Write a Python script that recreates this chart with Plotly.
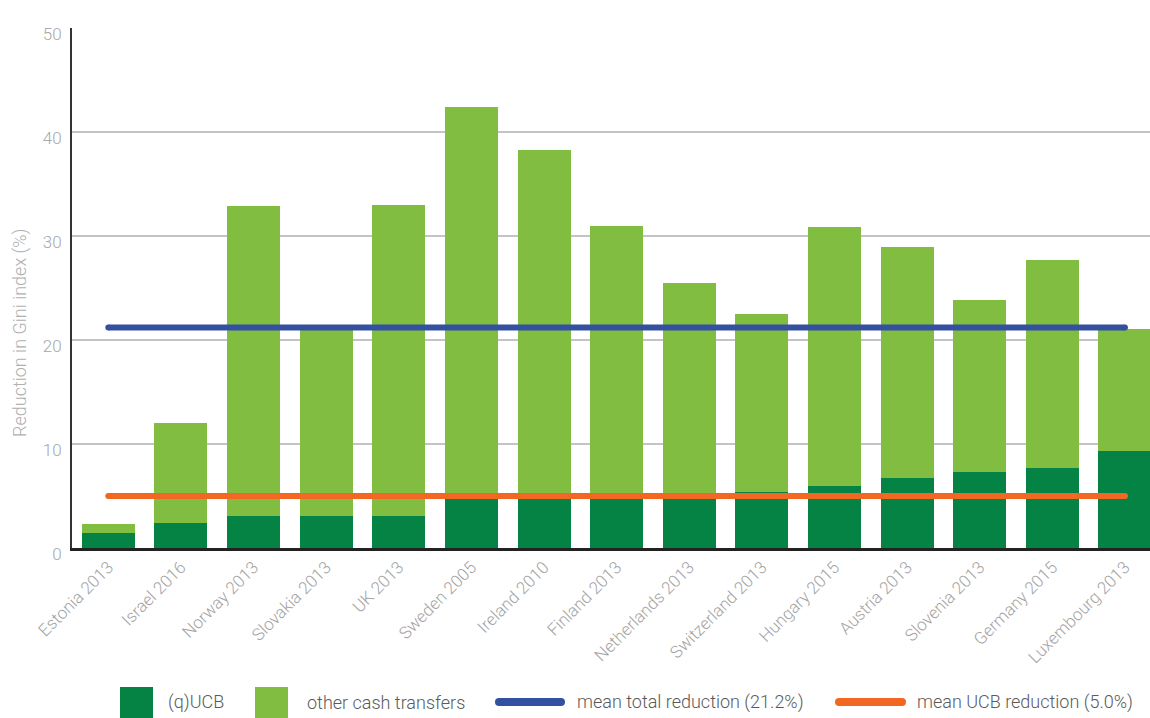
import plotly.graph_objects as go

categories = ["Estonia 2013", "Israel 2016", "Norway 2013", "Slovakia 2013", "UK 2013",
              "Sweden 2005", "Ireland 2010", "Finland 2013", "Netherlands 2013",
              "Switzerland 2013", "Hungary 2015", "Austria 2013", "Slovenia 2013",
              "Germany 2015", "Luxembourg 2013"]
ucb = [1.4, 2.4, 3.1, 3.1, 3.1, 4.7, 4.7, 4.8, 4.8, 5.4, 6.0, 6.7, 7.3, 7.7, 9.3]
other = [0.9, 9.6, 29.8, 17.9, 29.9, 37.7, 33.6, 26.2, 20.7, 17.1, 24.9, 22.2, 16.5, 20.0, 11.8]
mean_total = 21.2
mean_ucb = 5.0
yticks = [0, 10, 20, 30, 40, 50]

DARK = "#058344"
LIGHT = "#80bd41"
BLUE = "#3451a1"
ORANGE = "#f26722"
FONT = "Roboto"

W, H = 1150, 718
L, R, T, B = 72, 1150, 28, 548


def px(x):
    return (x - L) / (R - L)


def py(y):
    return (B - y) / (B - T)


fig = go.Figure()
fig.add_trace(go.Bar(x=categories, y=ucb, name="(q)UCB", marker=dict(color=DARK, line=dict(width=0))))
fig.add_trace(go.Bar(x=categories, y=other, name="other cash transfers",
                     marker=dict(color=LIGHT, line=dict(width=0))))
for val, col, nm in [(mean_total, BLUE, "mean total reduction"), (mean_ucb, ORANGE, "mean UCB reduction")]:
    fig.add_trace(go.Scatter(x=[categories[0], categories[-1]], y=[val, val], mode="lines+markers",
                             line=dict(color=col, width=6), marker=dict(color=col, size=6, line=dict(width=0)),
                             name=nm, hoverinfo="skip"))

fig.update_layout(
    width=W, height=H,
    margin=dict(l=L, r=W - R, t=T, b=H - B),
    barmode="stack", bargap=0.27,
    plot_bgcolor="white", paper_bgcolor="white",
    showlegend=False,
    font=dict(family=FONT, color="#999999", size=16, weight=300),
)
fig.update_xaxes(
    range=[-0.5, 14.345], tickangle=-45, showgrid=False,
    showline=True, linecolor="#222222", linewidth=2.5,
    tickfont=dict(family=FONT, size=17, color="#a3a3a3", weight=300), ticks="",
)
fig.update_yaxes(
    range=[0, 50], tickvals=yticks, showgrid=True, gridcolor="#c4c4c4", gridwidth=1.5,
    showline=True, linecolor="#333333", linewidth=2, zeroline=False,
    tickfont=dict(family=FONT, size=17, color="#a8a8a8", weight=300),
    ticklabelshift=6, ticklabelstandoff=5, ticks="",
)

# y-axis title
fig.add_annotation(text="Reduction in Gini index (%)", xref="paper", yref="paper",
                   x=px(20), y=py(333), textangle=-90, showarrow=False,
                   xanchor="center", yanchor="middle",
                   font=dict(family=FONT, size=18, color="#b0b0b0", weight=300))

# custom legend
LEG_Y = 702
legend_items = [
    ("box", DARK, 120, 153, 166, "(q)UCB"),
    ("box", LIGHT, 255, 288, 305, "other cash transfers"),
    ("line", BLUE, 499, 561, 575, "mean total reduction (21.2%)"),
    ("line", ORANGE, 839, 902, 915, "mean UCB reduction (5.0%)"),
]
for kind, col, x0, x1, tx, label in legend_items:
    if kind == "box":
        fig.add_shape(type="rect", xref="paper", yref="paper", x0=px(x0), x1=px(x1),
                      y0=py(718), y1=py(687), fillcolor=col, line=dict(width=0))
    else:
        fig.add_shape(type="line", xref="paper", yref="paper", x0=px(x0), x1=px(x1),
                      y0=py(LEG_Y), y1=py(LEG_Y), line=dict(color=col, width=8))
        for cx in (x0, x1):
            fig.add_shape(type="circle", xref="paper", yref="paper", x0=px(cx - 4), x1=px(cx + 4),
                          y0=py(LEG_Y + 4), y1=py(LEG_Y - 4), fillcolor=col, line=dict(width=0))
    fig.add_annotation(text=label, xref="paper", yref="paper", x=px(tx), y=py(LEG_Y),
                       xanchor="left", yanchor="middle", showarrow=False,
                       font=dict(family=FONT, size=18, color="#5a5a5a", weight=300))

fig.write_html("out.html", config={"displayModeBar": False},
               post_script="document.body.style.margin='0';document.body.style.overflow='hidden';")
